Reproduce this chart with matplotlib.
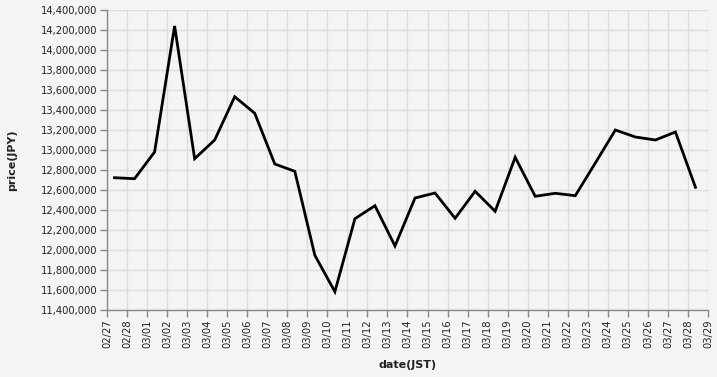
import matplotlib
matplotlib.use("Agg")
import matplotlib.pyplot as plt
import matplotlib.dates as mdates
import matplotlib.ticker as mticker
import pandas as pd

plt.rcParams['font.family'] = ['DejaVu Sans']

# daily price samples (taken around 09:00 JST)
dates = pd.date_range("2022-02-27 09:00", "2022-03-28 09:00", freq="D")
prices = [
    12723000, 12713000, 12980000, 14240000, 12913000, 13100000, 13533000,
    13367000, 12860000, 12787000, 11947000, 11583000, 12313000, 12443000,
    12040000, 12520000, 12570000, 12317000, 12587000, 12387000, 12927000,
    12537000, 12567000, 12543000, 12870000, 13200000, 13130000, 13100000,
    13180000, 12627000,
]
x_start = pd.Timestamp("2022-02-27")
x_end = pd.Timestamp("2022-03-29")
y_min, y_max, y_step = 11400000, 14400000, 200000

bg = '#f4f4f4'
fig = plt.figure(figsize=(7.17, 3.77), dpi=100, facecolor=bg)
ax = fig.add_axes([107 / 717, 1 - 310 / 377, 601 / 717, 300 / 377])
ax.set_facecolor(bg)

ax.plot(dates, prices, color='black', lw=2, solid_joinstyle='miter', zorder=3)

ax.set_xlim(x_start, x_end)
ax.set_ylim(y_min, y_max)
ax.xaxis.set_major_locator(mdates.DayLocator())
ax.xaxis.set_major_formatter(mdates.DateFormatter('%m/%d'))
ax.yaxis.set_major_locator(mticker.MultipleLocator(y_step))
ax.yaxis.set_major_formatter(mticker.FuncFormatter(lambda v, _: f'{int(v):,}'))

ax.grid(True, color='#dddddd', lw=1, zorder=0)
ax.set_axisbelow(True)
for s in ['top', 'right']:
    ax.spines[s].set_visible(False)
for s in ['left', 'bottom']:
    ax.spines[s].set_color('#888888')
    ax.spines[s].set_linewidth(1)

ax.tick_params(axis='both', colors='#888888', length=5, width=1,
               labelcolor='#222222', labelsize=7.2, pad=2)
plt.setp(ax.get_xticklabels(), rotation=90)

ax.set_xlabel('date(JST)', fontsize=8, fontweight='bold', color='#222222')
ax.set_ylabel('price(JPY)', fontsize=8, fontweight='bold', color='#222222')
ax.yaxis.set_label_coords(-90 / 601, 0.5)
ax.xaxis.set_label_coords(0.5, -50 / 300)

fig.savefig('out.png', dpi=100, facecolor=bg)
